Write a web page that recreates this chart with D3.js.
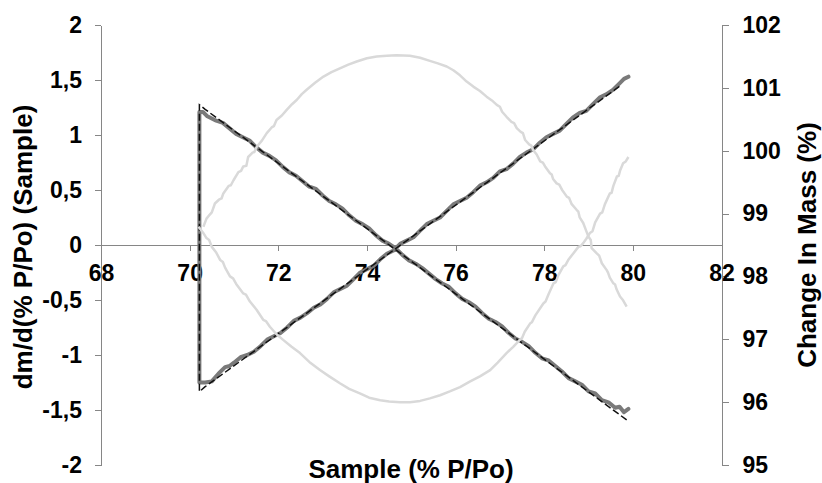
<!DOCTYPE html>
<meta charset="utf-8">
<style type="text/css">
    body{
      margin: 0;
      background: #fff;
    }
    svg{
      display: block;
    }
    text{
      font-family: "Liberation Sans", Arial, sans-serif;
      font-weight: bold;
      fill: #000;
    }
    .axis path, .axis line{
      stroke: #868686;
      stroke-width: 1px;
      shape-rendering: crispEdges;
    }
</style>
<body>
<script src="https://cdn.jsdelivr.net/npm/d3@7"></script>
<script>

//tick values for the three axes
var xTicks     = [68, 70, 72, 74, 76, 78, 80, 82];
var leftTicks  = [-2, -1.5, -1, -0.5, 0, 0.5, 1, 1.5, 2];
var rightTicks = [95, 96, 97, 98, 99, 100, 101, 102];

//measured dm/d(% P/Po), grey thick line [P/Po, value]
var measured = [
  [79.90, -1.49], [79.80, -1.52], [79.70, -1.47], [79.60, -1.48], [79.45, -1.43],
  [79.30, -1.41], [79.15, -1.35], [79.00, -1.33], [78.85, -1.27], [78.70, -1.24],
  [78.55, -1.21], [78.40, -1.15], [78.25, -1.10], [78.10, -1.05], [77.95, -1.03],
  [77.80, -0.98], [77.65, -0.92], [77.50, -0.88], [77.35, -0.85], [77.20, -0.80],
  [77.05, -0.74], [76.90, -0.70], [76.75, -0.67], [76.60, -0.62], [76.45, -0.56],
  [76.30, -0.52], [76.15, -0.49], [76.00, -0.44], [75.85, -0.38], [75.70, -0.35],
  [75.55, -0.31], [75.40, -0.26], [75.25, -0.21], [75.10, -0.17], [74.95, -0.14],
  [74.80, -0.09], [74.65, -0.03], [74.50, 0.01], [74.35, 0.04], [74.20, 0.09],
  [74.05, 0.15], [73.90, 0.19], [73.75, 0.22], [73.60, 0.27], [73.45, 0.33],
  [73.30, 0.37], [73.15, 0.40], [73.00, 0.45], [72.85, 0.51], [72.70, 0.53],
  [72.55, 0.58], [72.40, 0.63], [72.25, 0.66], [72.10, 0.71], [71.95, 0.77],
  [71.80, 0.81], [71.65, 0.84], [71.50, 0.89], [71.35, 0.95], [71.20, 0.98],
  [71.05, 1.01], [70.90, 1.06], [70.75, 1.11], [70.60, 1.13], [70.40, 1.17],
  [70.30, 1.21], [70.22, 1.21],
  [70.22, -1.25], [70.35, -1.25], [70.50, -1.24], [70.65, -1.17], [70.80, -1.11],
  [70.90, -1.10], [71.00, -1.07], [71.15, -1.02], [71.30, -1.00], [71.45, -0.97],
  [71.60, -0.92], [71.75, -0.86], [71.90, -0.83], [72.05, -0.80], [72.20, -0.75],
  [72.35, -0.69], [72.50, -0.66], [72.65, -0.62], [72.80, -0.57], [72.95, -0.54],
  [73.10, -0.49], [73.25, -0.43], [73.40, -0.40], [73.55, -0.37], [73.70, -0.31],
  [73.85, -0.25], [74.00, -0.22], [74.15, -0.19], [74.30, -0.13], [74.45, -0.08],
  [74.60, -0.05], [74.75, 0.01], [74.90, 0.04], [75.05, 0.07], [75.20, 0.13],
  [75.35, 0.19], [75.50, 0.22], [75.65, 0.25], [75.80, 0.31], [75.95, 0.37],
  [76.10, 0.40], [76.25, 0.43], [76.40, 0.48], [76.55, 0.54], [76.70, 0.57],
  [76.85, 0.61], [77.00, 0.67], [77.15, 0.69], [77.30, 0.74], [77.45, 0.80],
  [77.60, 0.84], [77.75, 0.87], [77.90, 0.93], [78.05, 0.98], [78.20, 1.01],
  [78.35, 1.04], [78.50, 1.10], [78.65, 1.16], [78.80, 1.20], [78.95, 1.22],
  [79.10, 1.28], [79.25, 1.34], [79.40, 1.37], [79.55, 1.41], [79.70, 1.47],
  [79.80, 1.51], [79.90, 1.53]
];

//model line, black dashed [P/Po, value]
var model = [
  [79.86, -1.59], [70.35, 1.233], [70.22, 1.275],
  [70.22, -1.333], [70.35, -1.288], [79.75, 1.457]
];

//change in mass, upper branch (right axis) [P/Po, %]
var massUpper = [
  [70.31, 98.79], [70.38, 98.92], [70.45, 98.98], [70.50, 99.02], [70.57, 99.16],
  [70.66, 99.22], [70.72, 99.24], [70.76, 99.32], [70.88, 99.44], [70.93, 99.45],
  [70.99, 99.53], [71.10, 99.66], [71.16, 99.68], [71.21, 99.75], [71.28, 99.76],
  [71.32, 99.90], [71.42, 99.97], [71.46, 99.98], [71.51, 100.06], [71.63, 100.16],
  [71.74, 100.28], [71.85, 100.37], [71.90, 100.39], [71.96, 100.49], [72.08, 100.56],
  [72.19, 100.65], [72.31, 100.74], [72.42, 100.81], [72.53, 100.90], [72.64, 100.97],
  [72.83, 101.08], [73.02, 101.18], [73.20, 101.25], [73.39, 101.31], [73.58, 101.37],
  [73.77, 101.42], [74.00, 101.47], [74.22, 101.50], [74.45, 101.51], [74.67, 101.52],
  [74.97, 101.51], [75.20, 101.48], [75.42, 101.43], [75.60, 101.39], [75.80, 101.34],
  [75.95, 101.28], [76.10, 101.20], [76.25, 101.10], [76.40, 101.02], [76.55, 100.95],
  [76.70, 100.86], [76.82, 100.80], [76.93, 100.73], [77.00, 100.70], [77.05, 100.62],
  [77.15, 100.54], [77.26, 100.46], [77.32, 100.44], [77.38, 100.36], [77.47, 100.30],
  [77.52, 100.28], [77.57, 100.17], [77.66, 100.10], [77.71, 100.08], [77.75, 100.01],
  [77.83, 99.94], [77.91, 99.83], [77.97, 99.81], [78.02, 99.75], [78.13, 99.64],
  [78.17, 99.62], [78.20, 99.55], [78.28, 99.48], [78.34, 99.46], [78.40, 99.38],
  [78.51, 99.27], [78.56, 99.25], [78.62, 99.15], [78.73, 99.06], [78.77, 99.03],
  [78.80, 98.94], [78.88, 98.85], [78.95, 98.72], [79.00, 98.63], [79.05, 98.58],
  [79.07, 98.45], [79.18, 98.37], [79.24, 98.33], [79.30, 98.21], [79.41, 98.10],
  [79.44, 98.06], [79.48, 97.98], [79.56, 97.89], [79.60, 97.87], [79.63, 97.80],
  [79.71, 97.68], [79.78, 97.62], [79.86, 97.52]
];

//change in mass, lower branch (right axis) [P/Po, %]
var massLower = [
  [70.20, 98.79], [70.30, 98.70], [70.38, 98.61], [70.44, 98.58], [70.50, 98.47],
  [70.60, 98.38], [70.69, 98.26], [70.75, 98.23], [70.80, 98.14], [70.91, 98.00],
  [70.98, 97.97], [71.05, 97.88], [71.21, 97.73], [71.27, 97.71], [71.36, 97.60],
  [71.51, 97.47], [71.66, 97.31], [71.72, 97.29], [71.81, 97.20], [71.96, 97.08],
  [72.11, 96.99], [72.30, 96.88], [72.49, 96.78], [72.70, 96.64], [72.94, 96.51],
  [73.15, 96.41], [73.39, 96.30], [73.60, 96.21], [73.84, 96.14], [74.05, 96.07],
  [74.30, 96.03], [74.50, 96.01], [74.75, 96.00], [74.97, 96.00], [75.20, 96.02],
  [75.42, 96.06], [75.65, 96.11], [75.87, 96.17], [76.10, 96.24], [76.33, 96.33],
  [76.55, 96.41], [76.78, 96.51], [76.95, 96.63], [77.15, 96.78], [77.30, 96.88],
  [77.45, 96.99], [77.50, 97.02], [77.56, 97.12], [77.68, 97.25], [77.72, 97.27],
  [77.80, 97.38], [77.98, 97.57], [78.03, 97.60], [78.10, 97.72], [78.21, 97.89],
  [78.26, 97.91], [78.32, 98.02], [78.43, 98.16], [78.48, 98.18], [78.55, 98.27],
  [78.66, 98.37], [78.77, 98.47], [78.82, 98.48], [78.88, 98.53], [78.95, 98.60],
  [79.03, 98.69], [79.09, 98.72], [79.15, 98.86], [79.26, 99.00], [79.31, 99.02],
  [79.37, 99.15], [79.48, 99.32], [79.52, 99.33], [79.56, 99.44], [79.64, 99.59],
  [79.68, 99.60], [79.71, 99.68], [79.78, 99.80], [79.84, 99.83], [79.90, 99.90]
];

var width  = 822,
    height = 483;

//plot area edges
var plotLeft = 101, plotRight = 721.5, plotTop = 25, plotBottom = 465;

var svg = d3.select("body")
  .append("svg")
  .attr("width", width)
  .attr("height", height);

var x = d3.scaleLinear().domain([68, 82]).range([plotLeft, plotRight]);
var yL = d3.scaleLinear().domain([-2, 2]).range([plotBottom, plotTop]);
var yR = d3.scaleLinear().domain([95, 102]).range([plotBottom, plotTop]);

//comma as decimal mark, plain hyphen for minus
var locale = d3.formatLocale({decimal: ",", thousands: ".", grouping: [3], currency: ["", ""], minus: "-"});
var fmt = locale.format("~g");

//left axis
svg.append("g")
  .attr("class", "axis")
  .attr("transform", "translate(" + plotLeft + ",0)")
  .call(d3.axisLeft(yL).tickValues(leftTicks).tickFormat(fmt).tickSizeInner(6).tickSizeOuter(0).tickPadding(13));

//right axis
svg.append("g")
  .attr("class", "axis")
  .attr("transform", "translate(" + plotRight + ",0)")
  .call(d3.axisRight(yR).tickValues(rightTicks).tickFormat(d3.format("d")).tickSizeInner(7).tickSizeOuter(0).tickPadding(14));

//x axis crossing at zero
svg.append("g")
  .attr("class", "axis")
  .attr("transform", "translate(0," + yL(0) + ")")
  .call(d3.axisBottom(x).tickValues(xTicks).tickFormat(d3.format("d")).tickSizeInner(6).tickSizeOuter(0).tickPadding(14));

svg.selectAll(".axis text")
  .attr("fill", "#000")
  .style("font-size", "23px");

//lines
var lineL = d3.line()
  .x(function(d){ return x(d[0]); })
  .y(function(d){ return yL(d[1]); });

var lineR = d3.line()
  .x(function(d){ return x(d[0]); })
  .y(function(d){ return yR(d[1]); });

svg.append("path")
  .datum(measured)
  .attr("d", lineL)
  .attr("fill", "none")
  .attr("stroke", "#7a7a7a")
  .attr("stroke-width", 4)
  .attr("stroke-linejoin", "round")
  .attr("stroke-linecap", "round");

svg.append("path")
  .datum(model)
  .attr("d", lineL)
  .attr("fill", "none")
  .attr("stroke", "#111")
  .attr("stroke-width", 1.5)
  .attr("stroke-dasharray", "7,3");

[massUpper, massLower].forEach(function(arr){
  svg.append("path")
    .datum(arr)
    .attr("d", lineR)
    .attr("fill", "none")
    .attr("stroke", "#d9d9d9")
    .attr("stroke-width", 2.5)
    .attr("stroke-linejoin", "round");
});

//axis titles
svg.append("text")
  .attr("x", 411)
  .attr("y", 478)
  .attr("text-anchor", "middle")
  .style("font-size", "26px")
  .text("Sample (% P/Po)");

svg.append("text")
  .attr("transform", "translate(32,247) rotate(-90)")
  .attr("text-anchor", "middle")
  .style("font-size", "26px")
  .text("dm/d(% P/Po) (Sample)");

svg.append("text")
  .attr("transform", "translate(816,245) rotate(-90)")
  .attr("text-anchor", "middle")
  .style("font-size", "26px")
  .text("Change In Mass (%)");

</script>
</body>
